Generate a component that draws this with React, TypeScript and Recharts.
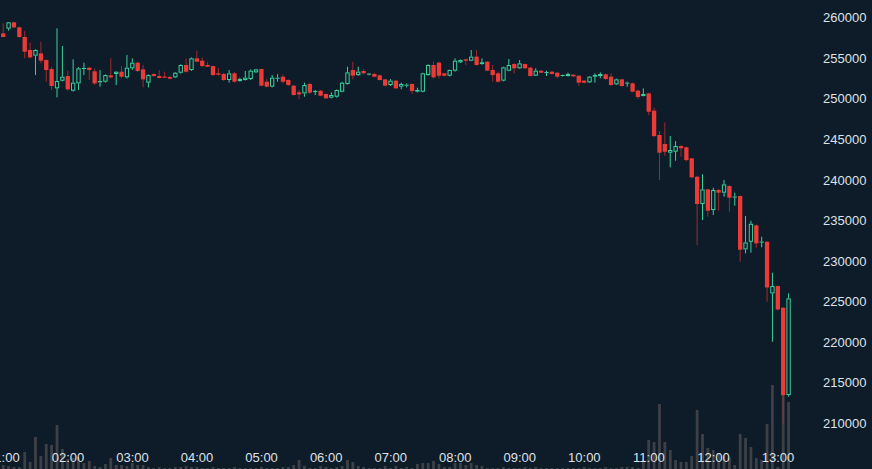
import React from 'react';
import { ComposedChart, Bar, XAxis, YAxis } from 'recharts';

const startMinute = 60;
const stepMinutes = 5;

const openPrices = [
  258070, 258650, 259430, 258810, 257620, 256020, 255320, 255600, 254780, 253670,
  251290, 252230, 252810, 251000, 251900, 253700, 253840, 253390, 252030, 252110,
  252890, 253060, 253340, 252650, 253760, 254450, 253630, 251990, 253060, 252810,
  252730, 252690, 252650, 253220, 254170, 253550, 254990, 254700, 254170, 254040,
  253140, 253060, 252320, 253140, 252200, 252320, 252440, 253260, 253680, 252110,
  251500, 252520, 252730, 252320, 251620, 250800, 250670, 251830, 250920, 251000,
  250590, 250140, 250260, 250880, 251830, 253550, 252930, 253430, 252980, 253060,
  252890, 252400, 251700, 252240, 251500, 251660, 251830, 250880, 250880, 252930,
  254170, 254460, 253140, 252850, 253470, 254500, 254870, 254700, 255200, 254290,
  254580, 253550, 253140, 252240, 253470, 254290, 253760, 254290, 253840, 252850,
  253470, 253220, 253350, 253220, 252810, 252810, 252980, 252850, 252240, 252030,
  252730, 252810, 253020, 252730, 251780, 252400, 251910, 251910, 251000, 250350,
  250670, 248540, 245540, 244430, 243360, 243480, 244180, 244020, 242660, 240400,
  237030, 238840, 236290, 238760, 238430, 239250, 237850, 238020, 231440, 232380,
  234400, 232300, 232380, 226010, 226920, 224250, 213480,
];

const highPrices = [
  259300, 259470, 259500, 258900, 258350, 256920, 256100, 257040, 254850, 253960,
  258690, 256510, 253470, 254870, 253900, 254450, 253900, 253760, 253550, 253000,
  254990, 253400, 254040, 255400, 254990, 254600, 254170, 253000, 253150, 253550,
  253340, 252800, 253300, 254250, 254990, 255100, 255930, 255110, 254580, 254100,
  253800, 253200, 253550, 253300, 252600, 253430, 253630, 253700, 253700, 252440,
  252930, 253020, 253020, 252400, 251700, 251090, 251990, 251990, 251090, 251100,
  250650, 250800, 251150, 252110, 253960, 254580, 253960, 253680, 253200, 253230,
  253000, 252450, 252440, 252320, 251990, 251910, 251900, 251370, 253220, 254250,
  254580, 254600, 253200, 253600, 254990, 254850, 254950, 256020, 256020, 254990,
  254650, 254170, 253350, 253960, 254910, 254400, 254780, 254350, 253900, 253760,
  253550, 253470, 253400, 253300, 253000, 253220, 253050, 252900, 252300, 252800,
  253140, 253260, 253140, 253140, 252500, 252450, 252110, 252000, 251150, 251290,
  250750, 248910, 246030, 247100, 245410, 244800, 244300, 244100, 242700, 240500,
  240690, 238900, 239040, 238900, 239990, 239350, 238430, 238100, 235550, 234970,
  234500, 233000, 232450, 228560, 227000, 224300, 226010,
];

const lowPrices = [
  257600, 258400, 258700, 257500, 254990, 254990, 252930, 254370, 252110, 251080,
  250180, 252150, 251000, 250900, 251080, 252930, 252320, 251700, 251490, 252000,
  252500, 251700, 252520, 252500, 253550, 253300, 251420, 251410, 252700, 252500,
  252560, 252400, 252560, 253100, 253250, 253450, 254500, 253960, 253900, 252850,
  252850, 252200, 251990, 252000, 252100, 252250, 252320, 253200, 251550, 251400,
  251400, 252110, 251910, 251600, 250400, 249940, 250260, 250600, 250470, 250300,
  250000, 250060, 250140, 250800, 251750, 252400, 252850, 253020, 252900, 252650,
  252250, 251550, 251580, 251200, 251170, 251400, 250590, 250800, 250800, 252850,
  252500, 252520, 252750, 252750, 253350, 254400, 254170, 254650, 254100, 254200,
  253400, 252110, 251990, 252150, 253400, 253140, 253700, 253700, 252750, 252800,
  253150, 252810, 253000, 252520, 252750, 252750, 252700, 251580, 251900, 251950,
  251990, 252520, 252320, 251600, 251700, 251500, 251500, 250800, 250000, 250300,
  248000, 245300, 239990, 242950, 241550, 242370, 242870, 242300, 240200, 231970,
  235060, 235470, 235670, 236210, 237930, 236080, 236820, 229920, 230950, 231030,
  231650, 231700, 224990, 220050, 223900, 209990, 213270,
];

const closePrices = [
  257620, 259430, 258810, 257620, 255810, 255110, 256020, 254700, 253550, 251580,
  252190, 252730, 251170, 251990, 253760, 253800, 253550, 251900, 252190, 252930,
  252650, 253340, 252730, 253840, 254450, 253430, 252400, 252930, 252810, 252570,
  252600, 252480, 253220, 254170, 253340, 254990, 254580, 254040, 253960, 252930,
  252980, 252320, 253140, 252110, 252440, 252610, 253470, 253630, 251620, 251500,
  252610, 252600, 252110, 251700, 250470, 250550, 251700, 250760, 250960, 250390,
  250060, 250470, 251090, 251990, 253260, 252850, 253350, 253140, 253100, 252730,
  252320, 251620, 252240, 251290, 251830, 251740, 250960, 251090, 253140, 254170,
  252650, 252850, 252850, 253550, 254700, 254780, 254700, 255200, 254170, 254500,
  253470, 252930, 252110, 253880, 254170, 253760, 254370, 253760, 252810, 253470,
  253220, 253300, 253060, 252730, 252930, 253060, 252770, 251990, 251990, 252730,
  252930, 253060, 252440, 251700, 252400, 251580, 252000, 250880, 250220, 250590,
  248410, 245410, 243360, 243480, 243690, 244180, 243900, 242450, 240320, 237030,
  238840, 236210, 238760, 238430, 239450, 237810, 237950, 231400, 232300, 234600,
  232180, 232400, 226750, 226920, 224040, 213480, 225400,
];

const volumes = [
  40, 30, 20, 20, 170, 70, 320, 130, 250, 240,
  440, 200, 100, 110, 120, 60, 80, 30, 20, 50,
  110, 40, 40, 30, 60, 40, 40, 20, 10, 20,
  10, 10, 20, 20, 30, 20, 20, 10, 10, 20,
  10, 10, 10, 20, 10, 10, 10, 10, 20, 10,
  10, 10, 20, 20, 40, 90, 30, 10, 10, 30,
  20, 10, 20, 30, 90, 70, 30, 20, 10, 10,
  10, 30, 10, 30, 10, 20, 10, 50, 60, 60,
  80, 50, 20, 20, 60, 60, 40, 60, 40, 30,
  10, 10, 10, 20, 10, 10, 10, 20, 10, 20,
  10, 10, 10, 10, 10, 10, 10, 10, 20, 10,
  10, 10, 20, 10, 10, 20, 20, 20, 10, 90,
  290, 270, 650, 270, 190, 90, 70, 70, 130, 590,
  350, 210, 190, 160, 140, 110, 40, 350, 310, 220,
  110, 90, 450, 840, 20, 1100, 670,
];

const timeTicks = [60, 120, 180, 240, 300, 360, 420, 480, 540, 600, 660, 720, 780];
const priceTicks = [210000, 215000, 220000, 225000, 230000, 235000, 240000, 245000, 250000, 255000, 260000];

const timeDomain: [number, number] = [56.84, 814.39];
const priceDomain: [number, number] = [204368, 262182];
const volumeDomain: [number, number] = [0, 4690];

const BG = '#0e1b29';
const UP = '#3ad29c';
const DOWN = '#ec3b37';
const DOWN_WICK = '#a02a2e';
const VOL = '#3e4045';
const TEXT = '#dfe2e7';
const FONT = '"Liberation Sans", Arial, Helvetica, sans-serif';

const rows = openPrices.map((o, i) => ({
  t: startMinute + i * stepMinutes,
  open: o,
  high: highPrices[i],
  low: lowPrices[i],
  close: closePrices[i],
  volume: volumes[i],
  range: [lowPrices[i], highPrices[i]],
}));

const fmtTime = (m: number) => {
  const h = Math.floor(m / 60);
  return `${h < 10 ? '0' : ''}${h}:00`;
};

const CandleShape = (props: any) => {
  const { x, y, width, height, payload } = props;
  if (payload == null || x == null) return <g />;
  const { open, close, high, low } = payload;
  const top = Math.min(y, y + height);
  const h = Math.abs(height);
  const span = high - low;
  const toY = (p: number) => (span === 0 ? top : top + ((high - p) / span) * h);
  const cx = x + width / 2;
  const up = close >= open;
  const bTop = toY(Math.max(open, close));
  const bBot = toY(Math.min(open, close));
  const bw = 4.3;
  const left = cx - bw / 2;
  const yHigh = toY(high);
  const yLow = toY(low);
  if (up) {
    const bh = Math.max(bBot - bTop, 1);
    return (
      <g>
        <line x1={cx} x2={cx} y1={yHigh} y2={bTop} stroke={UP} strokeWidth={1} />
        <line x1={cx} x2={cx} y1={bTop + bh} y2={yLow} stroke={UP} strokeWidth={1} />
        {bh > 2.2 ? (
          <rect x={left + 0.5} y={bTop + 0.5} width={bw - 1} height={bh - 1} fill="none" stroke={UP} strokeWidth={1} />
        ) : (
          <rect x={left} y={bTop} width={bw} height={bh} fill={UP} />
        )}
      </g>
    );
  }
  const bh = Math.max(bBot - bTop, 1);
  return (
    <g>
      <line x1={cx} x2={cx} y1={yHigh} y2={yLow} stroke={DOWN_WICK} strokeWidth={1} />
      <rect x={left} y={bTop} width={bw} height={bh} fill={DOWN} />
    </g>
  );
};

const VolumeShape = (props: any) => {
  const { x, y, width, height } = props;
  if (x == null) return <g />;
  const top = Math.min(y, y + height);
  const h = Math.abs(height);
  const cx = x + width / 2;
  const w = 2.8;
  return <rect x={cx - w / 2} y={top} width={w} height={h} fill={VOL} />;
};

export default function App() {
  return (
    <div style={{ position: 'fixed', left: 0, top: 0, width: 872, height: 469, background: BG, overflow: 'hidden' }}>
      <ComposedChart width={872} height={469} data={rows} margin={{ top: 0, right: 0, bottom: 0, left: 0 }}>
        <XAxis xAxisId="vol" dataKey="t" type="number" domain={timeDomain} allowDataOverflow hide />
        <XAxis
          xAxisId="price"
          dataKey="t"
          type="number"
          domain={timeDomain}
          allowDataOverflow
          ticks={timeTicks}
          interval={0}
          tickFormatter={fmtTime}
          mirror
          height={20}
          axisLine={false}
          tickLine={false}
          tickSize={0}
          tickMargin={7}
          tick={{ fill: TEXT, fontSize: 13, fontFamily: FONT }}
        />
        <YAxis yAxisId="vol" domain={volumeDomain} allowDataOverflow hide />
        <YAxis
          yAxisId="price"
          orientation="right"
          width={57}
          domain={priceDomain}
          allowDataOverflow
          ticks={priceTicks}
          interval={0}
          axisLine={false}
          tickLine={false}
          tickSize={0}
          tickMargin={8}
          tick={{ fill: TEXT, fontSize: 13, fontFamily: FONT }}
        />
        <Bar xAxisId="vol" yAxisId="vol" dataKey="volume" barSize={5} shape={VolumeShape} isAnimationActive={false} />
        <Bar xAxisId="price" yAxisId="price" dataKey="range" barSize={5} shape={CandleShape} isAnimationActive={false} />
      </ComposedChart>
    </div>
  );
}
